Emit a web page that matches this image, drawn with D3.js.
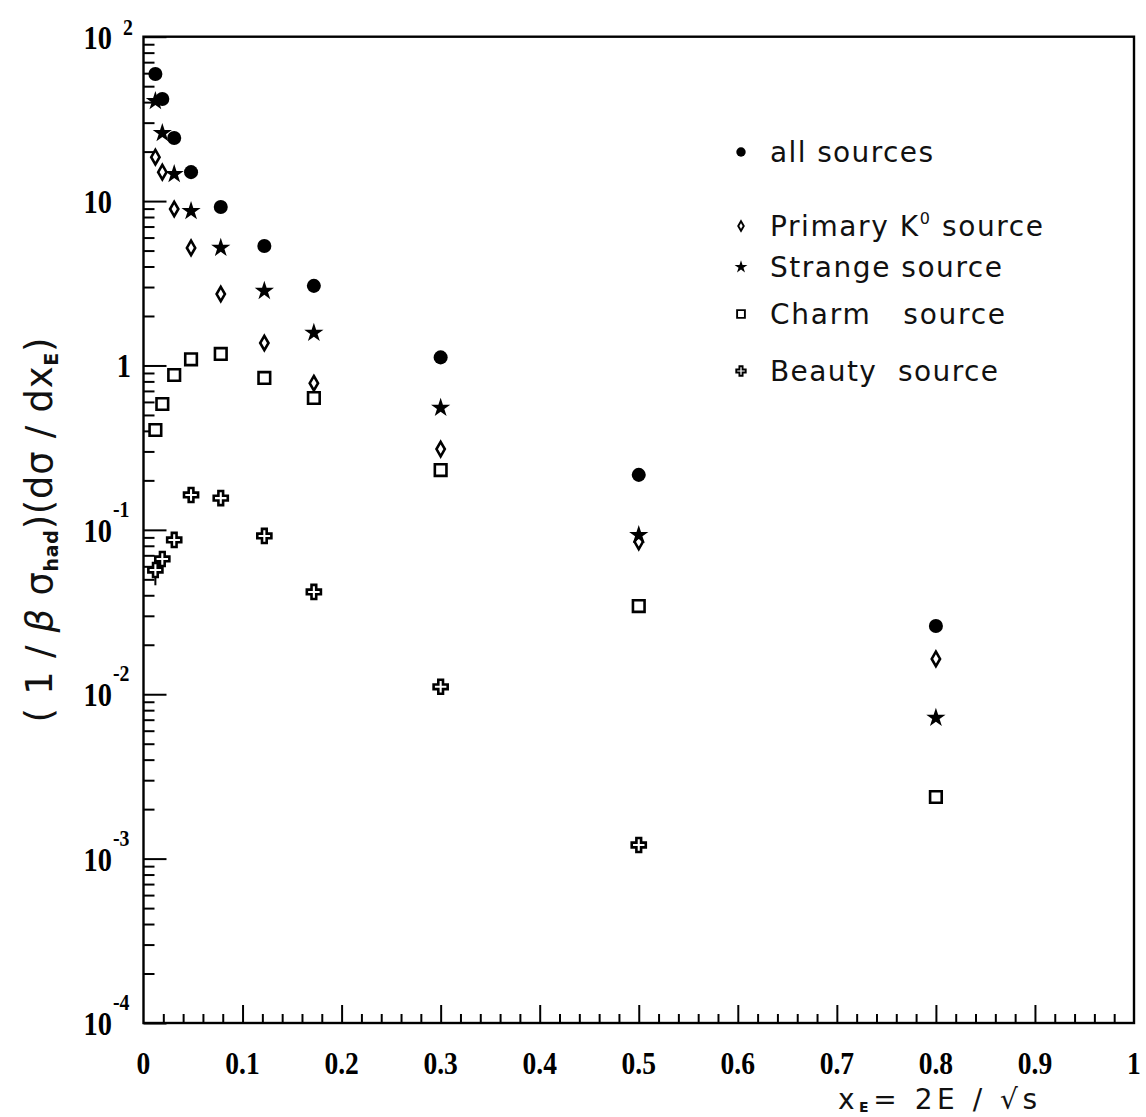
<!DOCTYPE html>
<html>
<head>
<meta charset="utf-8">
<script src="https://cdn.jsdelivr.net/npm/d3@7"></script>
<style>
body { margin: 0; background: #fff; }
svg { display: block; }
.num { font-family: "Liberation Serif", "Times New Roman", serif; font-weight: bold; fill: #000; }
.sans { font-family: "DejaVu Sans", sans-serif; fill: #111; }
</style>
</head>
<body>
<svg id="chart" width="1146" height="1117"></svg>
<script>
// x_E bin centres
const xE = [0.012, 0.019, 0.031, 0.048, 0.078, 0.122, 0.172, 0.3, 0.5, 0.8]

// (1/beta sigma_had) dsigma/dx_E per source
const allSources = [59.3, 41.8, 24.2, 15.0, 9.2, 5.33, 3.05, 1.12, 0.216, 0.026]
const primaryK0 = [18.5, 15.0, 8.95, 5.19, 2.72, 1.37, 0.78, 0.31, 0.0845, 0.0164]
const strange = [40.6, 25.9, 14.6, 8.7, 5.19, 2.84, 1.58, 0.552, 0.093, 0.00718]
const charm = [0.405, 0.583, 0.875, 1.09, 1.175, 0.84, 0.634, 0.231, 0.0344, 0.00237]
const beauty = [0.057, 0.0665, 0.0868, 0.163, 0.156, 0.0918, 0.0419, 0.0111, 0.00121, null]
const beautyLow = [0.046, null, null, null, null, null, null, null, null, null]

const xTickVals = [0, 0.1, 0.2, 0.3, 0.4, 0.5, 0.6, 0.7, 0.8, 0.9, 1]
const xTickLabels = ['0', '0.1', '0.2', '0.3', '0.4', '0.5', '0.6', '0.7', '0.8', '0.9', '1']
const yDecades = [-4, -3, -2, -1, 0, 1, 2]

const series = [
	{ name: 'all sources', vals: allSources, shape: 'circle' },
	{ name: 'Primary K', sup: '0', tail: ' source', vals: primaryK0, shape: 'diamond' },
	{ name: 'Strange source', vals: strange, shape: 'star' },
	{ name: 'Charm   source', vals: charm, shape: 'square' },
	{ name: 'Beauty  source', vals: beauty, shape: 'cross' },
]

const svg = d3.select('#chart')

const x = d3.scaleLinear([0, 1], [143.5, 1134])
const y = d3.scaleLog([1e-4, 1e2], [1023, 36.7])

// symbol makers, big for data, small for legend
const shapes = {
	circle: s => ({ d: d3.symbol(d3.symbolCircle, 155 * s)(), fill: '#000', stroke: 'none' }),
	diamond: s => ({ d: d3.symbol(d3.symbolDiamond, 60 * s)(), fill: '#fff', stroke: '#000' }),
	star: s => ({ d: d3.symbol(d3.symbolStar, 115 * s)(), fill: '#000', stroke: 'none' }),
	square: s => ({ d: d3.symbol(d3.symbolSquare, 135 * s)(), fill: '#fff', stroke: '#000' }),
	cross: s => ({ d: d3.symbol(d3.symbolCross, 110 * s)(), fill: '#fff', stroke: '#000' }),
}

const drawMark = (g, shape, s, cx, cy) => {
	const m = shapes[shape](s)
	g.append('path')
		.attr('d', m.d)
		.attr('transform', `translate(${cx},${cy})`)
		.attr('fill', m.fill)
		.attr('stroke', m.stroke)
		.attr('stroke-width', s < 1 ? 1.9 : 2.6)
}

// squeeze the serif digits a bit, the original font is narrow
const narrow = sel => sel.each(function () {
	const w = this.getComputedTextLength()
	d3.select(this).attr('textLength', w * 0.86).attr('lengthAdjust', 'spacingAndGlyphs')
})

// frame
svg.append('rect')
	.attr('x', x(0)).attr('y', y(1e2))
	.attr('width', x(1) - x(0)).attr('height', y(1e-4) - y(1e2))
	.attr('fill', 'none').attr('stroke', '#000').attr('stroke-width', 2.4)

// y ticks (inside, pointing right)
const yMinor = d3.range(-4, 2).flatMap(k => d3.range(2, 10).map(m => m * 10 ** k))
const yMajor = yDecades.map(k => 10 ** k)
const tickStyle = g => {
	g.select('.domain').remove()
	g.selectAll('line').attr('stroke', '#000').attr('stroke-width', 2)
	g.selectAll('text').remove()
}
svg.append('g').attr('transform', `translate(${x(0)},0)`)
	.call(d3.axisRight(y).tickValues(yMinor).tickSize(11).tickFormat(''))
	.call(tickStyle)
svg.append('g').attr('transform', `translate(${x(0)},0)`)
	.call(d3.axisRight(y).tickValues(yMajor).tickSize(23).tickFormat(''))
	.call(tickStyle)

// x ticks (inside, pointing up)
const xMinor = d3.range(1, 50).filter(i => i % 5 !== 0).map(i => i * 0.02)
const xMajor = d3.range(1, 10).map(i => i / 10)
svg.append('g').attr('transform', `translate(0,${y(1e-4)})`)
	.call(d3.axisTop(x).tickValues(xMinor).tickSize(9).tickFormat(''))
	.call(tickStyle)
svg.append('g').attr('transform', `translate(0,${y(1e-4)})`)
	.call(d3.axisTop(x).tickValues(xMajor).tickSize(18).tickFormat(''))
	.call(tickStyle)

// x tick labels
svg.append('g').selectAll('text')
	.data(xTickVals)
	.join('text')
	.attr('class', 'num')
	.attr('x', d => x(d))
	.attr('y', 1074)
	.attr('text-anchor', 'middle')
	.attr('font-size', 32)
	.text((d, i) => xTickLabels[i])
	.call(narrow)

// y tick labels, 10 with superscript exponent
const ylab = svg.append('g')
yDecades.forEach(k => {
	const ty = y(10 ** k)
	if (k === 0) {
		ylab.append('text').attr('class', 'num')
			.attr('x', 131).attr('y', ty + 12).attr('text-anchor', 'end')
			.attr('font-size', 33).text('1').call(narrow)
		return
	}
	ylab.append('text').attr('class', 'num')
		.attr('x', 112).attr('y', ty + 12).attr('text-anchor', 'end')
		.attr('font-size', 33).text('10').call(narrow)
	if (k === 1) return
	ylab.append('text').attr('class', 'num')
		.attr('x', k > 0 ? 123 : 113).attr('y', k > 0 ? ty - 2 : ty - 13)
		.attr('font-size', 23).text(String(k)).call(narrow)
})

// data marks
const marks = svg.append('g')
series.forEach(s => {
	s.vals.forEach((v, i) => {
		if (v == null) return
		drawMark(marks, s.shape, 1, x(xE[i]), y(v))
	})
})
// the one visible error bar (beauty, lowest bin)
beautyLow.forEach((lo, i) => {
	if (lo == null) return
	marks.insert('line', ':first-child')
		.attr('x1', x(xE[i])).attr('x2', x(xE[i]))
		.attr('y1', y(beauty[i])).attr('y2', y(lo))
		.attr('stroke', '#000').attr('stroke-width', 2)
})

// legend
const legendRows = [152, 226, 267, 314, 371]
const legendLen = [163, 273, 232, 235, 228]
const leg = svg.append('g')
series.forEach((s, i) => {
	const ly = legendRows[i]
	drawMark(leg, s.shape, 0.45, 741, ly)
	const t = leg.append('text').attr('class', 'sans')
		.attr('x', 770).attr('y', ly + 10)
		.attr('font-size', 28)
		.attr('textLength', legendLen[i]).attr('lengthAdjust', 'spacing')
		.attr('xml:space', 'preserve')
	t.append('tspan').text(s.name)
	if (s.sup) {
		t.append('tspan').attr('font-size', 16).attr('dy', -12).text(s.sup)
		t.append('tspan').attr('dy', 12).text(s.tail)
	}
})

// y title
const yt = svg.append('text').attr('class', 'sans')
	.attr('transform', 'translate(52,530) rotate(-90)')
	.attr('text-anchor', 'middle')
	.attr('font-size', 37)
	.attr('textLength', 385).attr('lengthAdjust', 'spacing')
yt.append('tspan').text('( 1 / ')
yt.append('tspan').attr('font-style', 'italic').text('β')
yt.append('tspan').text(' σ')
yt.append('tspan').attr('font-size', 19).attr('font-weight', 'bold').attr('dy', 6).text('had')
yt.append('tspan').attr('dy', -6).text(')(dσ / dx')
yt.append('tspan').attr('font-size', 19).attr('font-weight', 'bold').attr('dy', 6).text('E')
yt.append('tspan').attr('dy', -6).text(')')

// x title
const xt = svg.append('text').attr('class', 'sans')
	.attr('x', 838).attr('y', 1109)
	.attr('font-size', 28)
	.attr('textLength', 199).attr('lengthAdjust', 'spacing')
xt.append('tspan').text('x')
xt.append('tspan').attr('font-size', 14).attr('font-weight', 'bold').attr('dy', 3).text('E')
xt.append('tspan').attr('dy', -3).text('= 2E / √s')
</script>
</body>
</html>
